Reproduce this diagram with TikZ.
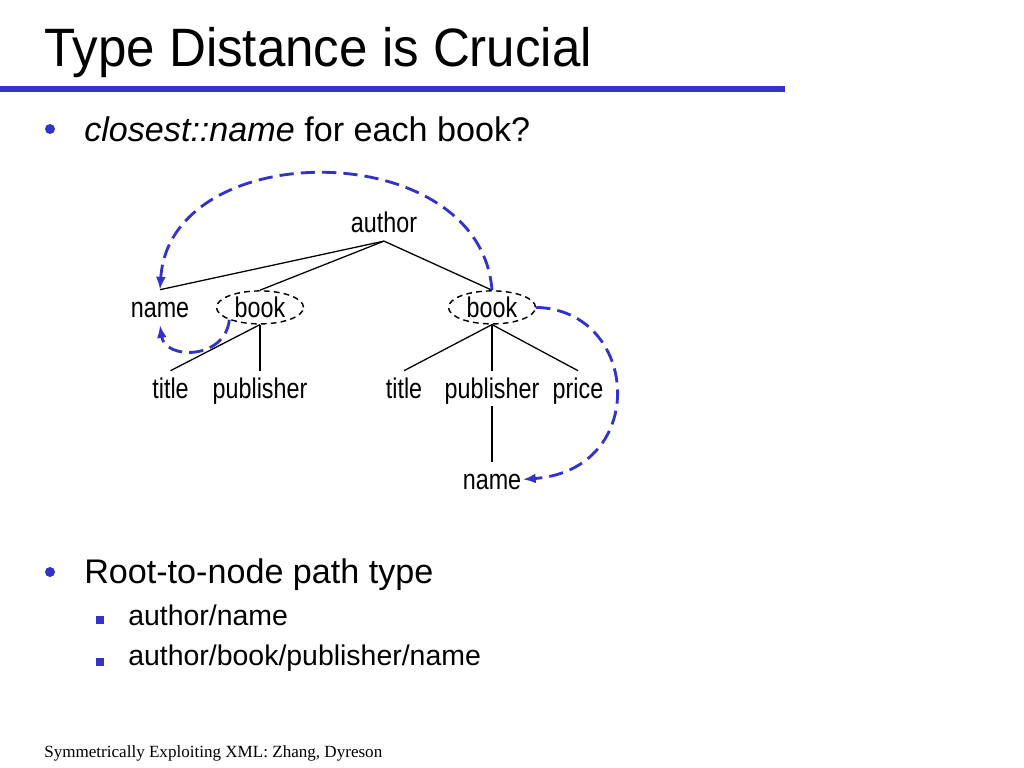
\documentclass[tikz,border=0pt]{standalone}
\usepackage{fontspec}
\setmainfont{Liberation Sans}
\newfontfamily\narrowfont[FakeStretch=0.82]{Liberation Sans}
\newfontfamily\titlefont[FakeStretch=0.945]{Liberation Sans}
\newfontfamily\footfont{Liberation Serif}
\usetikzlibrary{arrows.meta,shapes.geometric}
\definecolor{slideblue}{RGB}{51,51,204}
\tikzset{
  lbl/.style={font=\narrowfont\fontsize{20}{24}\selectfont, inner xsep=1pt, inner ysep=5pt,
    text height=14pt, text depth=0.5pt, anchor=base},
  bookbox/.style={lbl, ellipse, draw, dashed, line width=1pt, dash pattern=on 4pt off 3pt,
    minimum width=61.2pt, minimum height=23.2pt, inner sep=0pt},
  edge/.style={line width=0.9pt},
  jump/.style={slideblue, line width=2pt, dash pattern=on 10pt off 5pt,
    -{Latex[length=9pt,width=7pt,sep=0pt]}},
  bodytext/.style={anchor=base west, inner sep=0pt},
}
\begin{document}
\begin{tikzpicture}[x=0.703125pt, y=-0.703125pt]
\useasboundingbox[fill=white] (0,0) rectangle (1024,768);
% title
\node[bodytext, font=\titlefont\fontsize{38}{44}\selectfont] (title) at (44,67) {Type Distance is Crucial};
\fill[slideblue] (0,86.5) rectangle (785,92.5);
% bullets
\fill[slideblue] (50,129) circle (5);
\node[bodytext, font=\fontsize{24}{28}\selectfont] (b1) at (84,142) {\textit{closest::name} for each book?};
\fill[slideblue] (50,572) circle (5);
\node[bodytext, font=\fontsize{24}{28}\selectfont] (b2) at (84,583) {Root-to-node path type};
\fill[slideblue] (96,616) rectangle (104,624);
\node[bodytext, font=\fontsize{20}{24}\selectfont] (s1) at (128,625) {author/name};
\fill[slideblue] (96,658) rectangle (104,666);
\node[bodytext, font=\fontsize{20}{24}\selectfont] (s2) at (128,665) {author/book/publisher/name};
% footer
\node[bodytext, font=\footfont\fontsize{12}{14}\selectfont] (foot) at (44,757) {Symmetrically Exploiting XML: Zhang, Dyreson};
% tree
\node[lbl] (author) at (384,233) {author};
\node[lbl] (name1) at (160,317) {name};
\node[bookbox] (book1) at (260,317) {book};
\node[bookbox] (book2) at (492,317) {book};
\node[lbl] (title1) at (170.5,398) {title};
\node[lbl] (pub1) at (260,398) {publisher};
\node[lbl] (title2) at (404,398) {title};
\node[lbl] (pub2) at (492,398) {publisher};
\node[lbl] (price) at (578,398) {price};
\node[lbl] (name2) at (492,489) {name};
\draw[edge] (author.south) -- (name1.north);
\draw[edge] (author.south) -- (book1.north);
\draw[edge] (author.south) -- (book2.north);
\draw[edge] (book1.south) -- (title1.north);
\draw[edge] (book1.south) -- (pub1.north);
\draw[edge] (book2.south) -- (title2.north);
\draw[edge] (book2.south) -- (pub2.north);
\draw[edge] (book2.south) -- (price.north);
\draw[edge] (pub2.south) -- (name2.north);
% closest jumps
\draw[jump] (book2.north) .. controls (480,135) and (170,135) .. (name1.north);
\draw[jump] (book1.202) .. controls (225,360) and (165,360) .. (name1.south);
\draw[jump] (book2.east) .. controls (640,310) and (650,470) .. (name2.east);
\end{tikzpicture}
\end{document}
